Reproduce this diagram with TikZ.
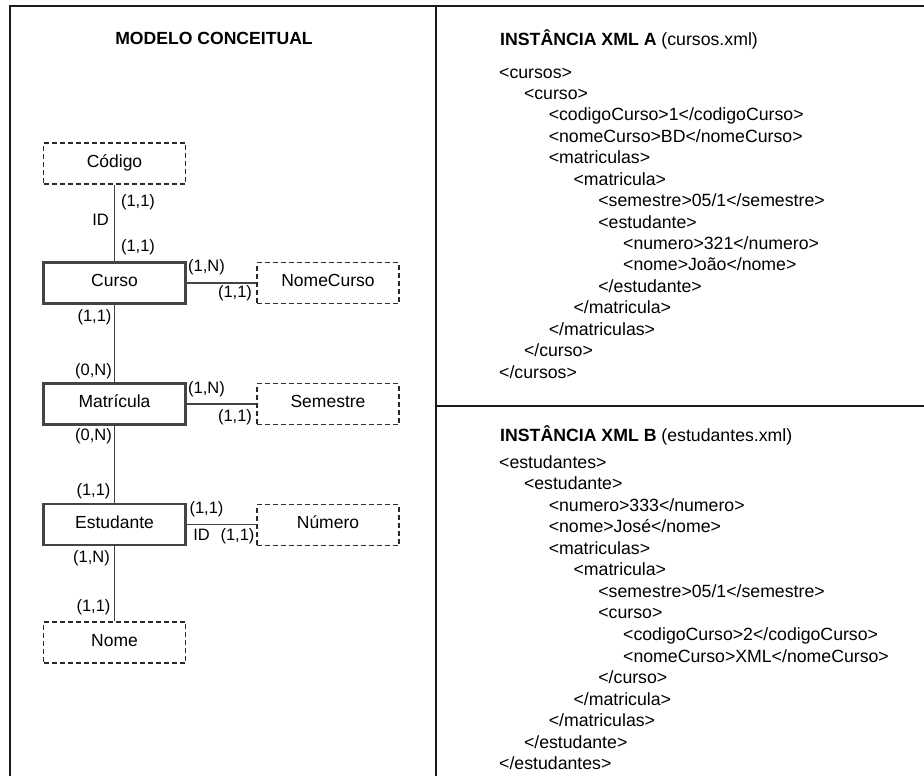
\documentclass[tikz,border=0pt]{standalone}
\usepackage{fontspec}
\setmainfont{Liberation Sans}
\definecolor{ink}{HTML}{000000}
\definecolor{rule}{HTML}{1A1A1A}
\definecolor{edge}{HTML}{444444}
\definecolor{dash}{HTML}{2A2A2A}
\begin{document}
\begin{tikzpicture}[x=1pt,y=-1pt,
  frameline/.style={draw=rule,line width=2.2pt},
  entity/.style={draw=edge,line width=2.2pt,minimum width=142pt,minimum height=41pt,
    inner sep=0pt,font=\fontsize{17.5}{20}\selectfont,text=ink,text height=0.72em,text depth=0pt},
  attrib/.style={draw=dash,line width=1.3pt,dash pattern=on 5pt off 3pt,minimum width=142pt,
    minimum height=41pt,inner sep=0pt,font=\fontsize{17.5}{20}\selectfont,text=ink,
    text height=0.72em,text depth=0pt},
  link/.style={draw=edge,line width=1.8pt},
  card/.style={inner sep=0pt,font=\fontsize{16.5}{19}\selectfont,text=ink,text height=0.72em,text depth=0pt},
  heading/.style={inner sep=0pt,font=\fontsize{17.6}{21}\selectfont,text=ink},
  xmlline/.style={inner sep=0pt,anchor=base west,font=\fontsize{17.7}{21}\selectfont,text=ink}]
\useasboundingbox (0,0) rectangle (924,776);
\fill[white] (0,0) rectangle (924,776);

% panel frame and dividers
\draw[frameline] (10,777) -- (10,6) -- (925,6);
\draw[frameline] (436,6) -- (436,777);
\draw[frameline] (436,406) -- (925,406);

% conceptual model
\node[heading,font=\fontsize{17.6}{21}\selectfont\bfseries,text height=0.72em,text depth=0pt] (mtitle) at (214,40.5) {MODELO CONCEITUAL};

\node[attrib] (codigo) at (114.5,163.5) {Código};
\node[entity] (curso) at (114.5,283) {Curso};
\node[attrib] (nomecurso) at (328,283) {NomeCurso};
\node[entity] (matricula) at (114.5,404) {Matrícula};
\node[attrib] (semestre) at (328,404) {Semestre};
\node[entity] (estudante) at (114.5,524.5) {Estudante};
\node[attrib] (numero) at (328,525) {Número};
\node[attrib] (nome) at (114.5,642.5) {Nome};

\draw[link] (codigo) -- (curso);
\draw[link] (curso) -- (nomecurso);
\draw[link] (curso) -- (matricula);
\draw[link] (matricula) -- (semestre);
\draw[link] (matricula) -- (estudante);
\draw[link] (estudante.east) -- (estudante.east -| numero.west);
\draw[link] (estudante) -- (nome);

\node[card] (k1) at (138,203) {(1,1)};
\node[card] (k2) at (100.5,222) {ID};
\node[card] (k3) at (138,248) {(1,1)};
\node[card] (k4) at (206.5,268) {(1,N)};
\node[card] (k5) at (235,294) {(1,1)};
\node[card] (k6) at (94.5,318) {(1,1)};
\node[card] (k7) at (93.5,372) {(0,N)};
\node[card] (k8) at (206.5,390) {(1,N)};
\node[card] (k9) at (235,418) {(1,1)};
\node[card] (k10) at (93.5,437) {(0,N)};
\node[card] (k11) at (93.5,492) {(1,1)};
\node[card] (k12) at (206.5,510) {(1,1)};
\node[card] (k13) at (201.5,537) {ID};
\node[card] (k14) at (237.5,537) {(1,1)};
\node[card] (k15) at (91.5,559) {(1,N)};
\node[card] (k16) at (93.5,608) {(1,1)};

% XML instance A
\node[xmlline] (atitle) at (500,46) {\textbf{INSTÂNCIA XML A} (cursos.xml)};
\foreach \lvl/\txt [count=\i from 0] in {
  0/{<cursos>},
  1/{<curso>},
  2/{<codigoCurso>1</codigoCurso>},
  2/{<nomeCurso>BD</nomeCurso>},
  2/{<matriculas>},
  3/{<matricula>},
  4/{<semestre>05/1</semestre>},
  4/{<estudante>},
  5/{<numero>321</numero>},
  5/{<nome>João</nome>},
  4/{</estudante>},
  3/{</matricula>},
  2/{</matriculas>},
  1/{</curso>},
  0/{</cursos>}}
  \node[xmlline] (a\i) at ({499+24.8*\lvl},{78+21.43*\i}) {\txt};

% XML instance B
\node[xmlline] (btitle) at (500,441) {\textbf{INSTÂNCIA XML B} (estudantes.xml)};
\foreach \lvl/\txt [count=\i from 0] in {
  0/{<estudantes>},
  1/{<estudante>},
  2/{<numero>333</numero>},
  2/{<nome>José</nome>},
  2/{<matriculas>},
  3/{<matricula>},
  4/{<semestre>05/1</semestre>},
  4/{<curso>},
  5/{<codigoCurso>2</codigoCurso>},
  5/{<nomeCurso>XML</nomeCurso>},
  4/{</curso>},
  3/{</matricula>},
  2/{</matriculas>},
  1/{</estudante>},
  0/{</estudantes>}}
  \node[xmlline] (b\i) at ({499+24.8*\lvl},{468+21.57*\i}) {\txt};
\end{tikzpicture}
\end{document}
